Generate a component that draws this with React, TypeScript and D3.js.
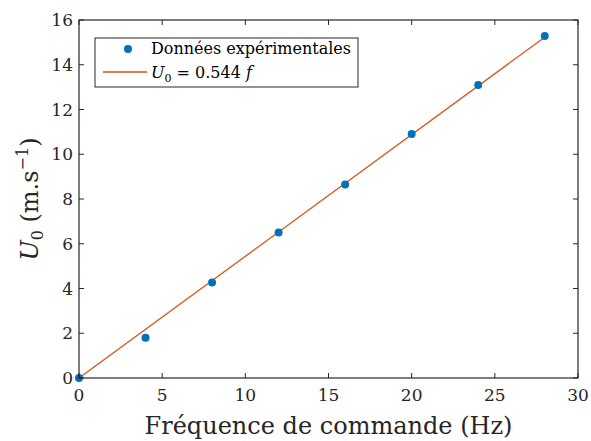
import React from "react";
import * as d3 from "d3";

const freq = [0, 4, 8, 12, 16, 20, 24, 28];
const speed = [0, 1.8, 4.27, 6.5, 8.65, 10.9, 13.1, 15.28];
const slope = 0.544;
const fitX = [0, 28];
const xTicks = [0, 5, 10, 15, 20, 25, 30];
const yTicks = [0, 2, 4, 6, 8, 10, 12, 14, 16];

const W = 591, H = 441;
const L = 79, R = 578, T = 20, B = 378;
const FONT = "DejaVu Serif";
const AX = "#262626";

export default function App() {
  const x = d3.scaleLinear().domain([0, 30]).range([L, R]);
  const y = d3.scaleLinear().domain([0, 16]).range([B, T]);
  const line = d3.line<number>().x((d) => x(d)).y((d) => y(slope * d));
  const tl = 5;
  return (
    <svg width={W} height={H} style={{ position: "absolute", left: 0, top: 0, fontFamily: FONT }}>
      <rect width={W} height={H} fill="#fff" />
      <path d={line(fitX) || ""} fill="none" stroke="#D95319" strokeWidth={1.3} />
      {freq.map((f, i) => (
        <circle key={i} cx={x(f)} cy={y(speed[i])} r={4} fill="#0072BD" />
      ))}
      <rect x={L} y={T} width={R - L} height={B - T} fill="none" stroke={AX} strokeWidth={1.2} />
      {xTicks.map((t) => (
        <g key={"x" + t}>
          <line x1={x(t)} x2={x(t)} y1={B} y2={B - tl} stroke={AX} strokeWidth={1} />
          <line x1={x(t)} x2={x(t)} y1={T} y2={T + tl} stroke={AX} strokeWidth={1} />
          <text x={x(t)} y={B + 23} fontSize={17} textAnchor="middle" fill={AX}>{t}</text>
        </g>
      ))}
      {yTicks.map((t) => (
        <g key={"y" + t}>
          <line x1={L} x2={L + tl} y1={y(t)} y2={y(t)} stroke={AX} strokeWidth={1} />
          <line x1={R} x2={R - tl} y1={y(t)} y2={y(t)} stroke={AX} strokeWidth={1} />
          <text x={L - 6} y={y(t) + 6} fontSize={17} textAnchor="end" fill={AX}>{t}</text>
        </g>
      ))}
      <text x={(L + R) / 2} y={434} fontSize={24} textAnchor="middle" fill={AX}>
        Fréquence de commande (Hz)
      </text>
      <text transform={`translate(38, ${(T + B) / 2}) rotate(-90)`} fontSize={24} textAnchor="middle" fill={AX}>
        <tspan fontStyle="italic">U</tspan>
        <tspan fontSize={16} dy={5}>0</tspan>
        <tspan dy={-5}> (m.s</tspan>
        <tspan fontSize={16} dy={-10}>−1</tspan>
        <tspan dy={10}>)</tspan>
      </text>
      <g>
        <rect x={95} y={38} width={263} height={49} fill="#fff" stroke={AX} strokeWidth={1} />
        <circle cx={128} cy={49} r={4} fill="#0072BD" />
        <text x={151} y={54} fontSize={16} fill="#000">Données expérimentales</text>
        <line x1={103} x2={147} y1={72} y2={72} stroke="#D95319" strokeWidth={1.3} />
        <text x={151} y={78} fontSize={16} fill="#000">
          <tspan fontStyle="italic">U</tspan>
          <tspan fontSize={11} dy={4}>0</tspan>
          <tspan dy={-4}> = 0.544 </tspan>
          <tspan fontStyle="italic">f</tspan>
        </text>
      </g>
    </svg>
  );
}
